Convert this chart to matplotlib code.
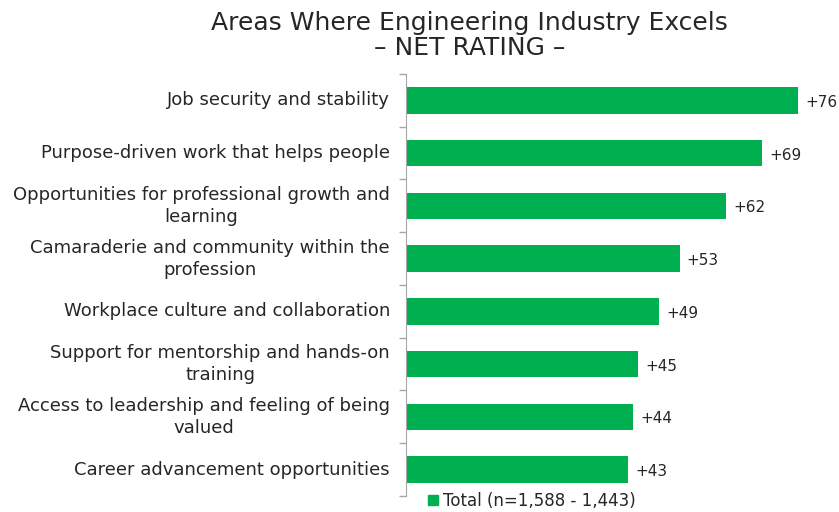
import matplotlib
matplotlib.use("Agg")
import matplotlib.pyplot as plt
from matplotlib.patches import Patch
from matplotlib.ticker import FixedLocator

categories = [
    "Job security and stability",
    "Purpose-driven work that helps people",
    "Opportunities for professional growth and\nlearning",
    "Camaraderie and community within the\nprofession",
    "Workplace culture and collaboration",
    "Support for mentorship and hands-on\ntraining",
    "Access to leadership and feeling of being\nvalued",
    "Career advancement opportunities",
]
net_rating = [76, 69, 62, 53, 49, 45, 44, 43]
legend_label = "Total (n=1,588 - 1,443)"

GREEN = "#00B050"
TEXT = "#262626"
AXIS = "#A6A6A6"

plt.rcParams["font.family"] = ["DejaVu Sans"]

fig = plt.figure(figsize=(8.39, 5.12), dpi=100)
ax = fig.add_axes([0.4839, 0.0313, 0.4934, 0.8242])

y = list(range(len(categories)))
bars = ax.barh(y, net_rating, height=0.5, color=GREEN)

ax.set_xlim(0, 80.2)
ax.set_ylim(len(categories) - 0.5, -0.5)

# category names: block right-aligned to the axis, lines centred inside it
ax.set_yticks(y)
ax.set_yticklabels([])
for yi, name in zip(y, categories):
    ax.annotate(name, xy=(0, yi), xycoords=("axes fraction", "data"),
                xytext=(-16, 0), textcoords="offset pixels",
                ha="right", va="center", multialignment="center",
                fontsize=13, color=TEXT, linespacing=1.3)
ax.tick_params(axis="y", which="major", length=0)
ax.yaxis.set_minor_locator(FixedLocator([i - 0.5 for i in range(len(categories) + 1)]))
ax.tick_params(axis="y", which="minor", length=5, color=AXIS, width=1)

ax.set_xticks([])
for side in ("top", "right", "bottom"):
    ax.spines[side].set_visible(False)
ax.spines["left"].set_color(AXIS)

for b, v in zip(bars, net_rating):
    ax.annotate(f"+{v}", xy=(b.get_width(), b.get_y() + b.get_height() / 2),
                xytext=(7, -2), textcoords="offset pixels",
                ha="left", va="center", fontsize=11, color=TEXT)

fig.text(0.56, 0.955, "Areas Where Engineering Industry Excels",
         ha="center", va="center", fontsize=18, color=TEXT)
fig.text(0.56, 0.906, "\u2013 NET RATING \u2013",
         ha="center", va="center", fontsize=18, color=TEXT)

fig.legend(handles=[Patch(color=GREEN, label=legend_label)],
           loc="center", bbox_to_anchor=(0.634, 0.022), frameon=False,
           fontsize=12, handlelength=0.6, handleheight=0.6, handletextpad=0.3,
           labelcolor=TEXT)

fig.savefig("out.png", dpi=100)
